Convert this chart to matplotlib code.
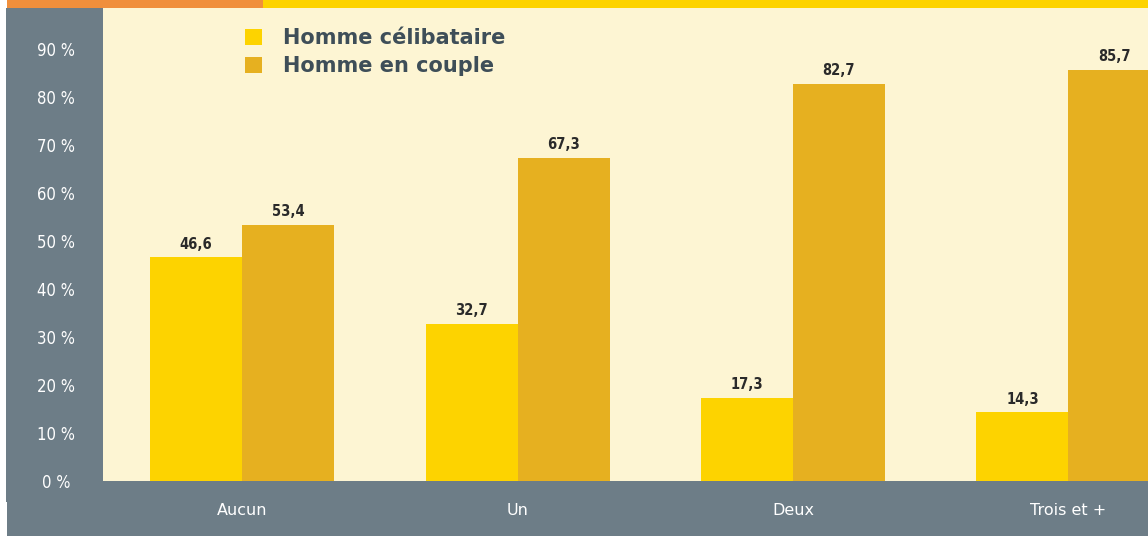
import matplotlib
matplotlib.use("Agg")
import matplotlib.pyplot as plt
from matplotlib.patches import Rectangle
import numpy as np

categories = ["Aucun", "Un", "Deux", "Trois et +"]
celibataire = [46.6, 32.7, 17.3, 14.3]
couple = [53.4, 67.3, 82.7, 85.7]
series_names = ["Homme célibataire", "Homme en couple"]
yticks = [0, 10, 20, 30, 40, 50, 60, 70, 80, 90]

YELLOW = "#FDD300"
GOLD = "#E6B020"
CREAM = "#FDF5D3"
GRAY = "#6D7D87"
ORANGE = "#F08F3C"
DARK = "#2A2A2A"
LEGTXT = "#3E4E58"

W, H = 1148, 536
fig = plt.figure(figsize=(W / 100, H / 100), dpi=100)
fig.patch.set_facecolor("white")

def px(x0, y0, x1, y1, color):
    fig.patches.append(Rectangle((x0 / W, 1 - y1 / H), (x1 - x0) / W, (y1 - y0) / H,
                                 transform=fig.transFigure, color=color, zorder=-5, lw=0))

px(6, 8, 103, 502, GRAY)
px(7, 8, W, H, GRAY)
px(7, 0, 263, 8, ORANGE)
px(263, 0, W, 8, YELLOW)

ax = fig.add_axes([103 / W, 1 - 481 / H, (W - 103) / W, (481 - 8) / H])
ax.set_zorder(1)
ax.set_facecolor(CREAM)
for s in ax.spines.values():
    s.set_visible(False)

x = np.arange(len(categories))
bw = 0.334
b1 = ax.bar(x - bw / 2, celibataire, bw, color=YELLOW, label=series_names[0], zorder=2)
b2 = ax.bar(x + bw / 2, couple, bw, color=GOLD, label=series_names[1], zorder=2)

ax.set_xlim(-0.505, 3.289)
ax.set_ylim(0, 98.54)

fmt = lambda v: f"{v:.1f}".replace(".", ",")
for bars, vals in ((b1, celibataire), (b2, couple)):
    for b, v in zip(bars, vals):
        ax.annotate(fmt(v), (b.get_x() + b.get_width() / 2, v), xytext=(0, 4),
                    textcoords="offset points", ha="center", va="bottom",
                    fontsize=10.5, fontweight="bold", color=DARK,
                    fontstretch="condensed", family="DejaVu Sans")

ax.set_yticks(yticks)
ax.set_yticklabels([f"{v} %" for v in yticks], color="white", fontsize=12,
                   fontstretch="condensed")
for lab in ax.get_yticklabels():
    lab.set_ha("center")
ax.tick_params(axis="y", length=0, pad=34)

ax.set_xticks(x)
ax.set_xticklabels(categories, color="white", fontsize=11.5)
ax.tick_params(axis="x", length=0, pad=16)

leg = ax.legend(loc="upper left", bbox_to_anchor=(0.128, 0.975), frameon=False,
                fontsize=15, handlelength=0.8, handleheight=0.8, handletextpad=1.0,
                labelspacing=0.4, borderaxespad=0)
for t in leg.get_texts():
    t.set_color(LEGTXT)
    t.set_fontweight("bold")

fig.savefig("out.png", dpi=100, facecolor=fig.get_facecolor())
